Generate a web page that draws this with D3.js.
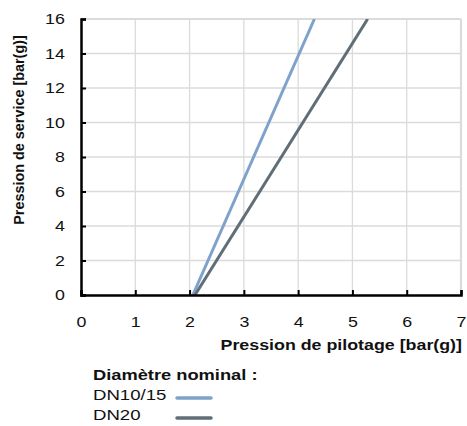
<!DOCTYPE html>
<html>
<head>
<meta charset="utf-8">
<script src="https://cdn.jsdelivr.net/npm/d3@7"></script>
<style>
  body { margin: 0; background: #fff; }
  text { font-family: "Liberation Sans", Arial, sans-serif; fill: #111; }
</style>
</head>
<body>
<div id="chart"></div>
<script>
// Chart data
let seriesNames = ['DN10/15', 'DN20'];
let seriesColors = ['#7fa2cb', '#5f6e77'];
let dn1015 = [[2.06, 0], [4.3, 16]];
let dn20 = [[2.1, 0], [5.28, 16]];
let xTicks = [0, 1, 2, 3, 4, 5, 6, 7];
let yTicks = [0, 2, 4, 6, 8, 10, 12, 14, 16];

let svgWidth = 467;
let svgHeight = 426;

// text in the reference is a bit wider than the font
let stretch = 1.15;

let margin = { top: 19, right: 6, bottom: 131, left: 81 };
let width = svgWidth - margin.left - margin.right;
let height = svgHeight - margin.top - margin.bottom;

let svg = d3.select('#chart')
    .append('svg')
    .attr('width', svgWidth)
    .attr('height', svgHeight);

let chartGroup = svg.append('g')
    .attr('transform', `translate(${margin.left}, ${margin.top})`);

let x = d3.scaleLinear().domain([0, 7]).range([0, width]);
let y = d3.scaleLinear().domain([0, 16]).range([height, 0]);

// place a horizontal label, widened a little
function addText(parent, tx, ty, str, size, bold, anchor, s) {
    return parent.append('text')
        .attr('transform', `translate(${tx}, ${ty}) scale(${s || stretch}, 1)`)
        .attr('text-anchor', anchor || 'start')
        .style('font-size', size + 'px')
        .style('font-weight', bold ? 'bold' : 'normal')
        .text(str);
}

// grid
chartGroup.append('g')
    .selectAll('line')
    .data(xTicks.slice(1))
    .enter()
    .append('line')
    .attr('x1', d => x(d)).attr('x2', d => x(d))
    .attr('y1', 0).attr('y2', height)
    .attr('stroke', '#dbdbdb')
    .attr('stroke-width', d => d === 7 ? 2.2 : 1.3);

chartGroup.append('g')
    .selectAll('line')
    .data(yTicks.slice(1))
    .enter()
    .append('line')
    .attr('x1', 0).attr('x2', width)
    .attr('y1', d => y(d)).attr('y2', d => y(d))
    .attr('stroke', '#dbdbdb')
    .attr('stroke-width', d => d === 16 ? 2.2 : 1.3);

// series lines
let line = d3.line().x(d => x(d[0])).y(d => y(d[1]));
svg.append('clipPath').attr('id', 'plot')
    .append('rect').attr('width', width).attr('height', height);

[dn1015, dn20].forEach(function(data, i) {
    chartGroup.append('path')
        .datum(data)
        .attr('d', line)
        .attr('fill', 'none')
        .attr('stroke', seriesColors[i])
        .attr('stroke-width', 3)
        .attr('clip-path', 'url(#plot)');
});

// axes
let bottomAxis = d3.axisBottom(x).tickValues(xTicks).tickSize(-5).tickPadding(21).tickFormat(d3.format('d'));
let leftAxis = d3.axisLeft(y).tickValues(yTicks).tickSize(-5).tickPadding(14).tickFormat(d3.format('d'));

let xAxis = chartGroup.append('g')
    .attr('transform', `translate(0, ${height})`)
    .call(bottomAxis);

let yAxis = chartGroup.append('g')
    .call(leftAxis);

[xAxis, yAxis].forEach(function(a) {
    a.select('.domain').attr('stroke', '#000').attr('stroke-width', 2.5);
    a.selectAll('.tick line').attr('stroke', '#000').attr('stroke-width', 2);
    a.selectAll('.tick text')
        .attr('transform', `scale(${stretch}, 1)`)
        .style('font-size', '15.5px')
        .style('font-family', '"Liberation Sans", Arial, sans-serif')
        .attr('fill', '#111');
});

// axis titles
addText(chartGroup, width + 1, height + 55, 'Pression de pilotage [bar(g)]', 15.5, true, 'end');

chartGroup.append('text')
    .attr('transform', `translate(${19 - margin.left + 5}, ${130 - margin.top}) rotate(-90)`)
    .attr('text-anchor', 'middle')
    .style('font-size', '14.4px')
    .style('font-weight', 'bold')
    .text('Pression de service [bar(g)]');

// legend
let legend = svg.append('g').attr('transform', 'translate(93, 380)');

addText(legend, 0, 0, 'Diamètre nominal :', 15.5, true, 'start', 1.18);

seriesNames.forEach(function(name, i) {
    let g = legend.append('g').attr('transform', `translate(0, ${20 + i * 20})`);
    addText(g, 0, 0, name, 15.5, false, 'start', 1.2);
    g.append('line')
        .attr('x1', 84).attr('x2', 118)
        .attr('y1', -2).attr('y2', -2)
        .attr('stroke', seriesColors[i])
        .attr('stroke-width', 3.5)
        .attr('stroke-linecap', 'round');
});
</script>
</body>
</html>
